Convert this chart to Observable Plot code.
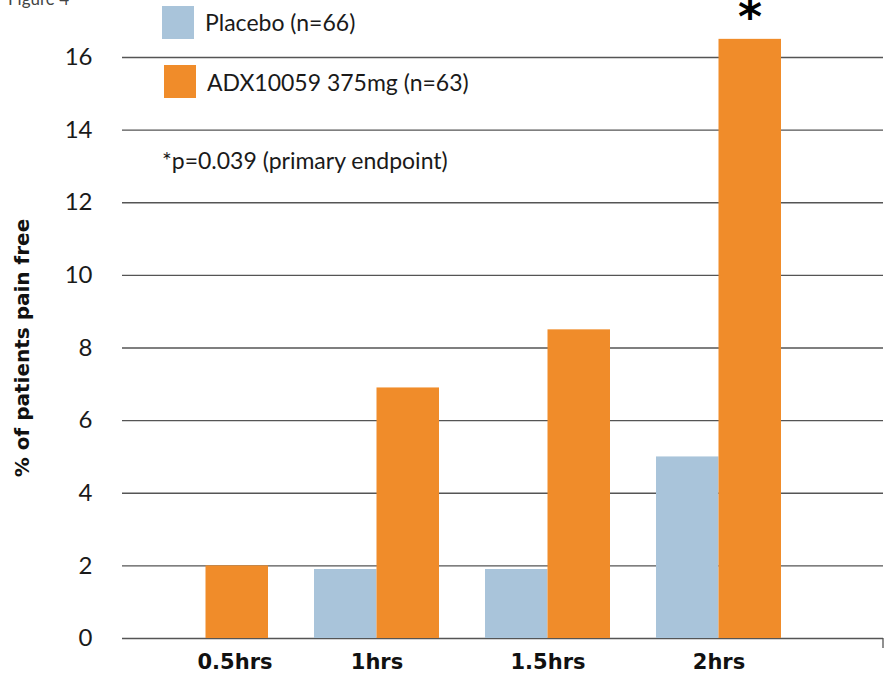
<!DOCTYPE html>
<html><head><meta charset="utf-8">
<script src="https://cdn.jsdelivr.net/npm/d3@7"></script>
<script src="https://cdn.jsdelivr.net/npm/@observablehq/plot@0.6"></script>
<style>
body{margin:0;background:#fff;}
#wrap{position:relative;width:888px;height:674px;overflow:hidden;font-family:Lato, sans-serif;color:#1a1a1a;}
#wrap svg{position:absolute;left:0;top:0;}
.sw{position:absolute;width:32px;height:33px;}
.lt{position:absolute;font-size:23px;line-height:1;white-space:nowrap;}
</style></head><body><div id="wrap"></div>
<script>
const groups = ["0.5hrs", "1hrs", "1.5hrs", "2hrs"];
const seriesNames = ["Placebo (n=66)", "ADX10059 375mg (n=63)"];
const placebo = [0, 1.9, 1.9, 5.0];
const adx = [2.0, 6.9, 8.5, 16.5];
const yTicks = [0, 2, 4, 6, 8, 10, 12, 14, 16];
const colors = ["#a9c4da", "#f08c2a"];
const yLabel = "% of patients pain free";
const note = "*p=0.039 (primary endpoint)";
const figLabel = "Figure 4";
const sigGroup = "2hrs";

const rowsP = groups.map((g, i) => ({group: g, value: placebo[i]}));
const rowsA = groups.map((g, i) => ({group: g, value: adx[i]}));
const sig = [{group: sigGroup, value: adx[groups.indexOf(sigGroup)]}];

const axisFont = {fontWeight: "bold", fontFamily: "DejaVu Sans", fontSize: 21, fill: "#111"};

const chart = Plot.plot({
  width: 888, height: 674,
  marginLeft: 122, marginRight: 5, marginTop: 57, marginBottom: 36,
  style: {fontFamily: "Lato, sans-serif", fontSize: "24px", color: "#1a1a1a", background: "#fff", overflow: "visible"},
  x: {type: "band", domain: groups, paddingInner: 0.271, paddingOuter: 0.354, align: 0.173, axis: null},
  y: {domain: [0, 16], axis: null},
  marks: [
    Plot.ruleY(yTicks, {stroke: "#555", strokeWidth: 1.3}),
    Plot.barY(rowsP, {x: "group", y: "value", fill: colors[0], insetRight: 62.5}),
    Plot.barY(rowsA, {x: "group", y: "value", fill: colors[1], insetLeft: 62.5}),
    Plot.axisY({ticks: yTicks, tickSize: 0, tickPadding: 30, fontSize: 24, label: null}),
    Plot.text([yLabel], {text: d => d, frameAnchor: "left", textAnchor: "middle", rotate: -90, dx: -100, ...axisFont, fontSize: 20}),
    Plot.axisX({ticks: groups.slice(0, 1), tickSize: 0, tickPadding: 16, dx: 29, label: null, ...axisFont}),
    Plot.axisX({ticks: groups.slice(1), tickSize: 0, tickPadding: 16, label: null, ...axisFont}),
    Plot.text(sig, {x: "group", y: "value", text: () => "*", dx: 31, dy: -21, fontSize: 46, fontWeight: "bold", fontFamily: "DejaVu Sans", fill: "#000"})
  ]
});

const wrap = document.getElementById("wrap");
wrap.appendChild(chart);

// small end tick at the right of the baseline
d3.select(chart).append("line")
  .attr("x1", 888 - 5).attr("x2", 888 - 5)
  .attr("y1", 674 - 36).attr("y2", 674 - 36 + 10)
  .attr("stroke", "#555").attr("stroke-width", 1.3);

function add(cls, css, text) {
  const el = document.createElement("div");
  el.className = cls;
  Object.assign(el.style, css);
  if (text) el.textContent = text;
  wrap.appendChild(el);
  return el;
}
add("lt", {left: "8px", top: "-10px", fontSize: "17px", color: "#444"}, figLabel);
add("sw", {left: "162px", top: "6px", background: colors[0]});
add("lt", {left: "205px", top: "11px"}, seriesNames[0]);
add("sw", {left: "164px", top: "65px", background: colors[1]});
add("lt", {left: "207px", top: "71px"}, seriesNames[1]);
add("lt", {left: "162px", top: "149px"}, note);
</script></body></html>
